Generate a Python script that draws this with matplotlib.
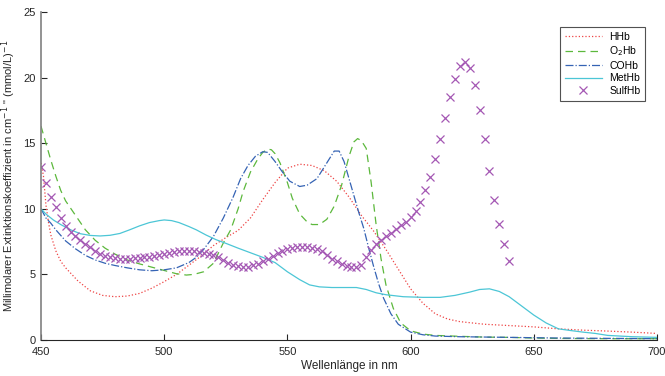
import matplotlib
matplotlib.use("Agg")
import matplotlib.pyplot as plt

plt.rcParams['font.family'] = ['Liberation Sans', 'DejaVu Sans']

# HHb
hhb_x = [450, 451, 452, 453, 454, 456, 458, 460, 462, 465, 470, 475, 480, 485, 490, 495, 500, 505, 510,
         515, 520, 525, 530, 535, 540, 545, 550, 555, 560, 565, 570, 575, 580, 585, 590, 595, 600, 605,
         610, 615, 620, 630, 640, 650, 660, 670, 680, 690, 700]
hhb_y = [13.5, 12.5, 10.3, 9.0, 8.0, 6.8, 6.0, 5.5, 5.1, 4.5, 3.75, 3.4, 3.3, 3.35, 3.55, 3.95, 4.45, 5.0, 5.7,
         6.4, 7.2, 7.8, 8.35, 9.3, 10.7, 12.0, 13.1, 13.4, 13.3, 12.9, 12.1, 10.9, 9.5, 8.3, 6.9, 5.4, 3.9, 2.8,
         2.0, 1.6, 1.4, 1.2, 1.1, 1.0, 0.85, 0.75, 0.68, 0.6, 0.5]

# O2Hb
o2hb_x = [450, 452, 454, 456, 458, 460, 464, 468, 472, 476, 480, 485, 490, 495, 500, 505, 509, 512, 516,
          520, 524, 527, 530, 532, 535, 538, 540, 542, 543.5, 545, 547, 550, 552, 555, 558, 560, 563, 566, 569,
          572, 575, 577, 578.5, 580, 582, 584, 586, 588, 590, 593, 596, 600, 605, 610, 620, 630, 640, 650,
          660, 680, 700]
o2hb_y = [16.3, 15.0, 13.7, 12.5, 11.4, 10.6, 9.5, 8.4, 7.6, 7.0, 6.55, 6.1, 5.8, 5.55, 5.3, 5.05, 4.95, 5.0, 5.2,
          5.85, 7.4, 8.4, 10.0, 11.3, 12.8, 13.8, 14.3, 14.55, 14.5, 14.2, 13.5, 12.0, 10.8, 9.6, 9.0, 8.8, 8.8, 9.2, 10.2,
          11.8, 14.0, 15.1, 15.35, 15.2, 14.6, 12.0, 8.8, 6.2, 4.2, 2.4, 1.3, 0.7, 0.45, 0.35, 0.28, 0.22, 0.2, 0.15,
          0.12, 0.1, 0.1]

# COHb
cohb_x = [450, 452, 454, 456, 460, 464, 468, 472, 476, 480, 485, 490, 495, 500, 505, 510, 513, 516, 520,
          524, 528, 531, 534, 537, 540, 542, 545, 548, 551, 555, 558, 562, 566, 569, 571, 573, 575, 577,
          579, 581, 583, 585, 587, 589, 592, 595, 600, 605, 610, 620, 640, 660, 700]
cohb_y = [10.0, 9.3, 8.9, 8.4, 7.55, 6.95, 6.45, 6.1, 5.85, 5.68, 5.5, 5.35, 5.28, 5.35, 5.5, 5.9, 6.3, 6.9, 7.9,
          9.3, 10.9, 12.3, 13.3, 14.0, 14.35, 14.3, 13.6, 12.8, 12.1, 11.7, 11.8, 12.3, 13.5, 14.4, 14.4, 13.6,
          12.3, 11.0, 9.7, 8.5, 7.0, 5.6, 4.3, 3.2, 2.0, 1.2, 0.6, 0.4, 0.3, 0.25, 0.2, 0.15, 0.1]

# MetHb
methb_x = [450, 452, 455, 458, 462, 466, 470, 474, 478, 482, 486, 490, 494, 498, 500, 503, 506, 510, 513,
           517, 521, 525, 530, 535, 540, 545, 550, 555, 559, 563, 568, 573, 578, 582, 586, 590, 597, 605,
           612, 618, 624, 628, 632, 636, 640, 645, 650, 655, 660, 665, 670, 675, 680, 690, 700]
methb_y = [10.0, 9.6, 9.15, 8.8, 8.4, 8.1, 7.97, 7.93, 7.98, 8.12, 8.4, 8.7, 8.95, 9.1, 9.15, 9.1, 8.95, 8.65, 8.4,
           8.0, 7.65, 7.37, 7.0, 6.65, 6.3, 5.9, 5.2, 4.6, 4.2, 4.05, 4.0, 4.0, 4.0, 3.85, 3.6, 3.45, 3.3, 3.25,
           3.25, 3.4, 3.65, 3.85, 3.9, 3.7, 3.3, 2.6, 1.9, 1.3, 0.85, 0.72, 0.6, 0.5, 0.35, 0.25, 0.2]

# SulfHb (markers, every 2 nm from 450 to 640)
sulf_x = list(range(450, 641, 2))
sulf_y = [13.2, 11.94, 10.92, 10.1, 9.32, 8.7, 8.25, 7.93, 7.62, 7.3, 7.06, 6.8, 6.55, 6.4, 6.3, 6.22,
          6.2, 6.18, 6.2, 6.22, 6.26, 6.3, 6.35, 6.42, 6.5, 6.56, 6.62, 6.7, 6.76, 6.8, 6.82, 6.8,
          6.74, 6.65, 6.55, 6.45, 6.3, 6.1, 5.9, 5.72, 5.62, 5.58, 5.6, 5.68, 5.82, 6.0, 6.2, 6.4,
          6.6, 6.8, 6.95, 7.05, 7.1, 7.12, 7.1, 7.05, 6.95, 6.75, 6.5, 6.2, 6.0, 5.8, 5.65, 5.6,
          5.58, 5.75, 6.3, 6.85, 7.3, 7.6, 7.9, 8.15, 8.45, 8.77, 9.0, 9.4, 9.86, 10.5, 11.4, 12.4,
          13.8, 15.3, 16.9, 18.5, 19.9, 20.9, 21.2, 20.7, 19.4, 17.5, 15.3, 12.9, 10.7, 8.84, 7.3, 6.0]

x_ticks = [450, 500, 550, 600, 650, 700]
y_ticks = [0, 5, 10, 15, 20, 25]

fig = plt.figure(figsize=(6.65, 3.76), dpi=100)
ax = fig.add_axes([41/665, 36/376, 616/665, 328/376])

lw = 0.9
ax.plot(hhb_x, hhb_y, ':', color='#ee4444', lw=lw, label='HHb')
ax.plot(o2hb_x, o2hb_y, '--', color='#5cb83c', lw=lw, dashes=(6, 4), label='O$_2$Hb')
ax.plot(cohb_x, cohb_y, '-.', color='#3563b4', lw=lw, label='COHb')
ax.plot(methb_x, methb_y, '-', color='#4cc6d6', lw=lw, label='MetHb')
ax.plot(sulf_x, sulf_y, 'x', color='#a458b4', ms=5.5, mew=0.9, linestyle='none', label='SulfHb')

ax.set_xlim(450, 700)
ax.set_ylim(0, 25)
ax.set_xticks(x_ticks)
ax.set_yticks(y_ticks)
ax.tick_params(direction='in', length=4, width=0.8, labelsize=8, colors='#262626')
ax.tick_params(axis='x', pad=5)
ax.tick_params(axis='y', pad=4)
for s in ['top', 'right']:
    ax.spines[s].set_visible(False)
ax.spines['left'].set_color('#808080')
ax.spines['left'].set_linewidth(1.2)
ax.spines['bottom'].set_color('#262626')
ax.spines['bottom'].set_linewidth(0.8)

ax.set_xlabel('Wellenlänge in nm', fontsize=8.5, color='#262626', labelpad=2)
ax.set_ylabel('Millimolarer Extinktionskoeffizient in cm$^{-1}$ " (mmol/L)$^{-1}$', fontsize=8, color='#262626', labelpad=4)

leg = ax.legend(loc='upper right', bbox_to_anchor=(0.981, 0.954), borderaxespad=0, fontsize=7.5, frameon=True,
                fancybox=False, edgecolor='#262626', handlelength=3.6, handletextpad=0.7,
                borderpad=0.45, labelspacing=0.25)
leg.get_frame().set_linewidth(0.8)

fig.savefig('out.png', dpi=100)
